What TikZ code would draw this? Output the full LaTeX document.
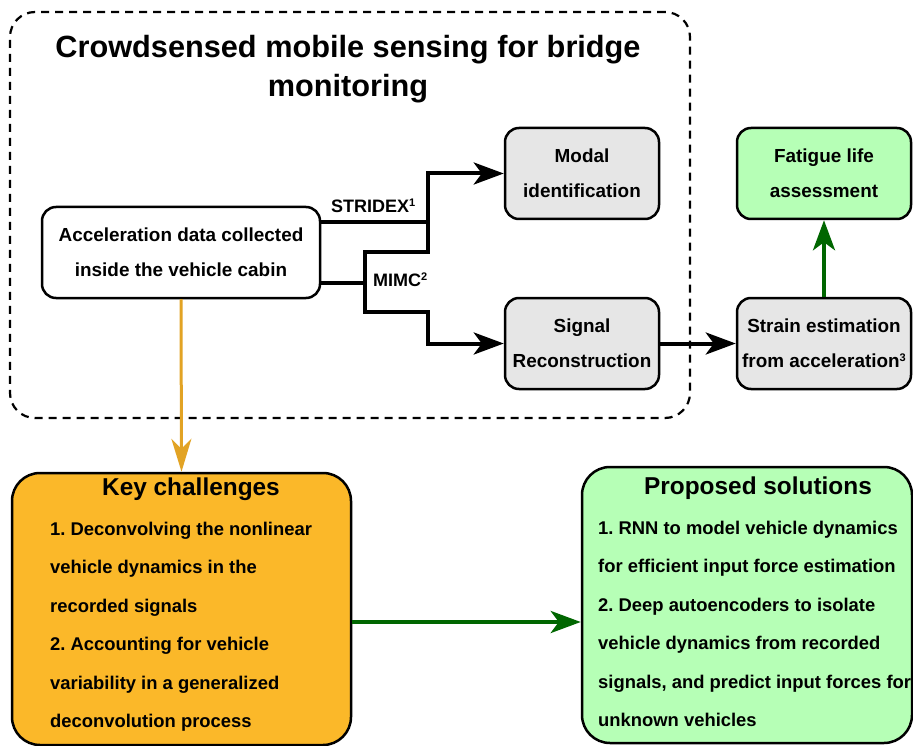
\documentclass[tikz,border=0pt]{standalone}
\usepackage{fontspec}
\setmainfont{Liberation Sans}
\usetikzlibrary{arrows.meta}
\definecolor{boxgray}{RGB}{230,230,230}
\definecolor{lgreen}{RGB}{182,255,182}
\definecolor{korange}{RGB}{251,184,41}
\definecolor{dgreen}{RGB}{0,102,0}
\definecolor{aorange}{RGB}{226,163,36}
\newcommand{\supx}[1]{\raisebox{6pt}{\fontsize{11}{11}\selectfont #1}}
\frenchspacing
\begin{document}
\begin{tikzpicture}[x=1pt,y=-1pt,
  font=\bfseries\fontsize{18.9}{35}\selectfont,
  box/.style={draw=black, line width=2.5pt, rounded corners=14pt, align=center, inner sep=0pt},
  bigbox/.style={draw=black, line width=2.5pt, rounded corners=28pt, inner sep=0pt},
  conn/.style={line width=4pt, -{Stealth[length=30pt,width=22pt,inset=8pt]}},
  plain/.style={line width=4pt},
  oconn/.style={line width=3pt, draw=aorange, -{Stealth[length=33pt,width=20pt,inset=10pt]}},
  lbl/.style={inner sep=0pt, anchor=base west, font=\bfseries\fontsize{18}{20}\selectfont},
  body/.style={inner sep=0pt, align=left, anchor=north west, font=\bfseries\fontsize{18.4}{38.4}\selectfont},
  head/.style={inner sep=0pt, font=\bfseries\fontsize{24.4}{28}\selectfont}
]
\useasboundingbox (0,0) rectangle (913,746);

% frame
\node[draw=black, line width=2.2pt, dash pattern=on 8pt off 6pt, rounded corners=25pt,
      minimum width=680pt, minimum height=406pt, inner sep=0pt] (frame) at (350,215) {};
\node[align=center, inner sep=0pt, font=\bfseries\fontsize{30.7}{39}\selectfont] (title) at (348,69)
  {Crowdsensed mobile sensing for bridge\\monitoring};

% nodes
\node[box, fill=white, minimum width=278pt, minimum height=91pt] (acc) at (181,252.5)
  {Acceleration data collected\\inside the vehicle cabin};
\node[box, fill=boxgray, minimum width=154pt, minimum height=91pt] (modal) at (582,173.5)
  {Modal\\identification};
\node[box, fill=boxgray, minimum width=154pt, minimum height=91pt] (signal) at (582,343.5)
  {Signal\\Reconstruction};
\node[box, fill=lgreen, minimum width=174pt, minimum height=91pt] (fatigue) at (824,173.5)
  {Fatigue life\\assessment};
\node[box, fill=boxgray, minimum width=174pt, minimum height=91pt] (strain) at (824,343.5)
  {Strain estimation\\from acceleration\supx{3}};

% junction coordinates
\coordinate (j1) at (428,222);
\coordinate (j2) at (428,252);
\coordinate (j3) at (365,252);
\coordinate (j4) at (365,283);
\coordinate (j5) at (365,312);
\coordinate (j6) at (428,312);

\draw[conn] ([yshift=30.5pt]acc.east) -- (j1) |- (modal.west);
\draw[plain] (j1) -- (j2) -- (j3) -- (j4);
\draw[conn] ([yshift=-30.5pt]acc.east) -- (j4) -- (j5) -- (j6) |- (signal.west);
\node[lbl] (stridex) at (331,213) {STRIDEX\supx{1}};
\node[lbl] (mimc) at (373,287) {MIMC\supx{2}};

\draw[conn] (signal.east) -- (strain.west);
\draw[conn, draw=dgreen, fill=dgreen] (strain.north) -- (fatigue.south);

% bottom boxes
\node[bigbox, fill=korange, minimum width=339pt, minimum height=272pt] (key) at (181.5,609) {};
\node[head] (keyt) at (191,489) {Key challenges};
\node[body] (keyb) at (50,522) {1. Deconvolving the nonlinear\\vehicle dynamics in the\\recorded signals\\2. Accounting for vehicle\\variability in a generalized\\deconvolution process};

\node[bigbox, fill=lgreen, minimum width=330pt, minimum height=276pt] (prop) at (747,605) {};
\node[head] (propt) at (758,488) {Proposed solutions};
\node[body] (propb) at (598,521) {1. RNN to model vehicle dynamics\\for efficient input force estimation\\2. Deep autoencoders to isolate\\vehicle dynamics from recorded\\signals, and predict input forces for\\unknown vehicles};

\draw[oconn] (acc.south) -- (key.north);
\draw[conn, draw=dgreen, fill=dgreen] (key.east |- 0,622) -- (prop.west |- 0,622);
\end{tikzpicture}
\end{document}
